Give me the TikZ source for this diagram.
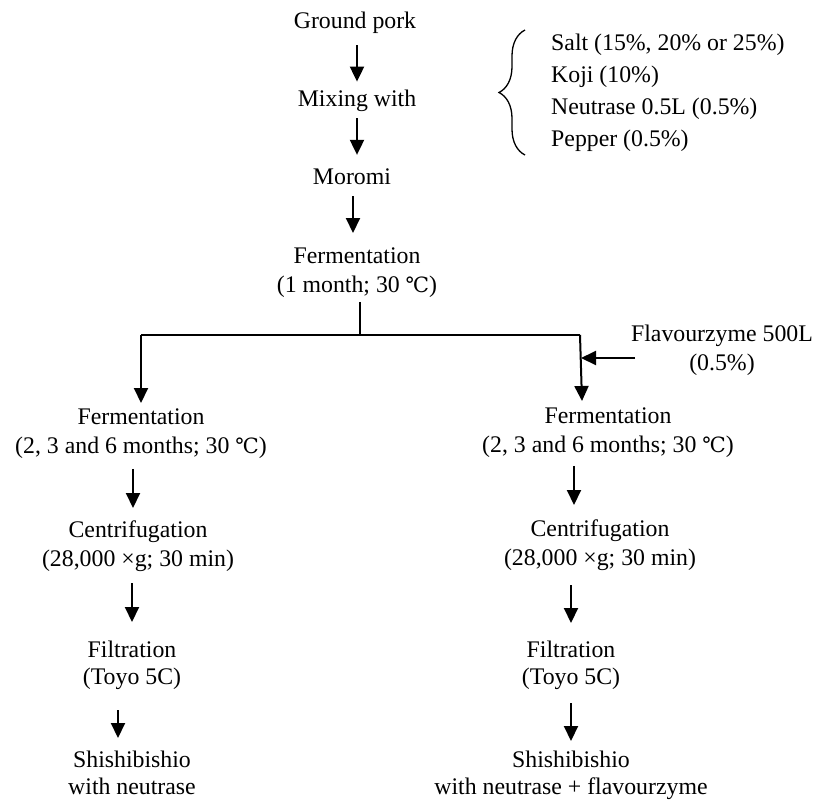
\documentclass[tikz,border=0pt]{standalone}
\usepackage{fontspec}
\setmainfont{Liberation Serif}
\newfontfamily\degfont{DejaVu Serif}
\usetikzlibrary{arrows.meta,decorations.pathreplacing,calc}
\newcommand{\degC}{\hspace{0.25em}{\degfont\fontsize{21}{21}\selectfont ℃}}
\begin{document}
\begin{tikzpicture}[x=1pt,y=-1pt,
  txt/.style={inner sep=0pt, align=center, font=\fontsize{23.8}{29}\selectfont},
  txtb/.style={inner sep=0pt, align=center, font=\fontsize{23.8}{27.5}\selectfont},
  arr/.style={line width=2pt, -{Triangle[width=14pt,length=15pt]}},
  bar/.style={line width=2pt},
  stub/.style={line width=1.1pt},
  bracestyle/.style={line width=1.3pt, decorate, decoration={brace, amplitude=26pt, aspect=0.5}}]
\useasboundingbox (0,0) rectangle (817,804);
% main column
\node[txt,anchor=base] (gp) at (355,28) {Ground pork};
\node[txt,anchor=base] (mix) at (357,106) {Mixing with};
\node[txt,anchor=base] (mor) at (352,184) {Moromi};
\node[txt,anchor=north] (fer) at (357,247.7) {Fermentation\\(1 month; 30\degC)};
% ingredients
\node[txt,anchor=north west,align=left,font=\fontsize{23.8}{32}\selectfont] (ing) at (551,33.5)
  {Salt (15\%, 20\% or 25\%)\\Koji (10\%)\\Neutrase 0.5L (0.5\%)\\Pepper (0.5\%)};
\coordinate (bt) at (525,30);
\coordinate (bb) at (525,155);
\draw[bracestyle] (bb) -- (bt);
% branches
\coordinate (j) at (360,335);
\coordinate (jl) at (141,335);
\coordinate (jr) at (580,335);
\node[txt,anchor=north] (fl) at (141,408.7) {Fermentation\\(2, 3 and 6 months; 30\degC)};
\node[txt,anchor=north] (fr) at (608,407.7) {Fermentation\\(2, 3 and 6 months; 30\degC)};
\node[txt,anchor=north] (flav) at (722,324.7) {Flavourzyme 500L\\(0.5\%)};
\coordinate (fs) at (635,358);
\coordinate (fe) at (581,358);
\node[txt,anchor=north] (cl) at (138,520.7) {Centrifugation\\(28,000 ×g; 30 min)};
\node[txt,anchor=north] (cr) at (600,519.7) {Centrifugation\\(28,000 ×g; 30 min)};
\node[txtb,anchor=north] (fil) at (132,640.7) {Filtration\\(Toyo 5C)};
\node[txtb,anchor=north] (fir) at (571,640.7) {Filtration\\(Toyo 5C)};
\node[txtb,anchor=north] (sl) at (132,750.7) {Shishibishio\\with neutrase};
\node[txtb,anchor=north] (sr) at (571,750.7) {Shishibishio\\with neutrase + flavourzyme};
% connectors
\draw[arr] ($(gp.south)+(2,12)$) -- ($(mix.north)+(0,-7.7)$);
\draw[arr] ($(mix.south)+(0,6.8)$) -- ($(mor.north)+(5,-13.2)$);
\draw[arr] ($(mor.south)+(1,12)$) -- ($(fer.north)+(-4,-14.7)$);
\draw[stub] ($(fer.south)+(3,4)$) -- (j);
\draw[bar] (jl) -- (jr);
\draw[arr] (jl) -- ($(fl.north)+(0,-5.7)$);
\draw[arr] (jr) -- ($(fr.north)+(-26,-6.7)$);
\draw[arr] (fs) -- (fe);
\draw[arr] ($(fl.south)+(-8,10)$) -- ($(cl.north)+(-5,-12.7)$);
\draw[arr] ($(fr.south)+(-34,8)$) -- ($(cr.north)+(-26,-14.7)$);
\draw[arr] ($(cl.south)+(-6,11)$) -- ($(fil.north)+(0,-18.7)$);
\draw[arr] ($(cr.south)+(-29,14)$) -- ($(fir.north)+(0,-17.7)$);
\draw[arr] ($(fil.south)+(-14,20)$) -- ($(sl.north)+(-14,-12.7)$);
\draw[arr] ($(fir.south)+(0,13)$) -- ($(sr.north)+(0,-9.7)$);
\end{tikzpicture}
\end{document}
